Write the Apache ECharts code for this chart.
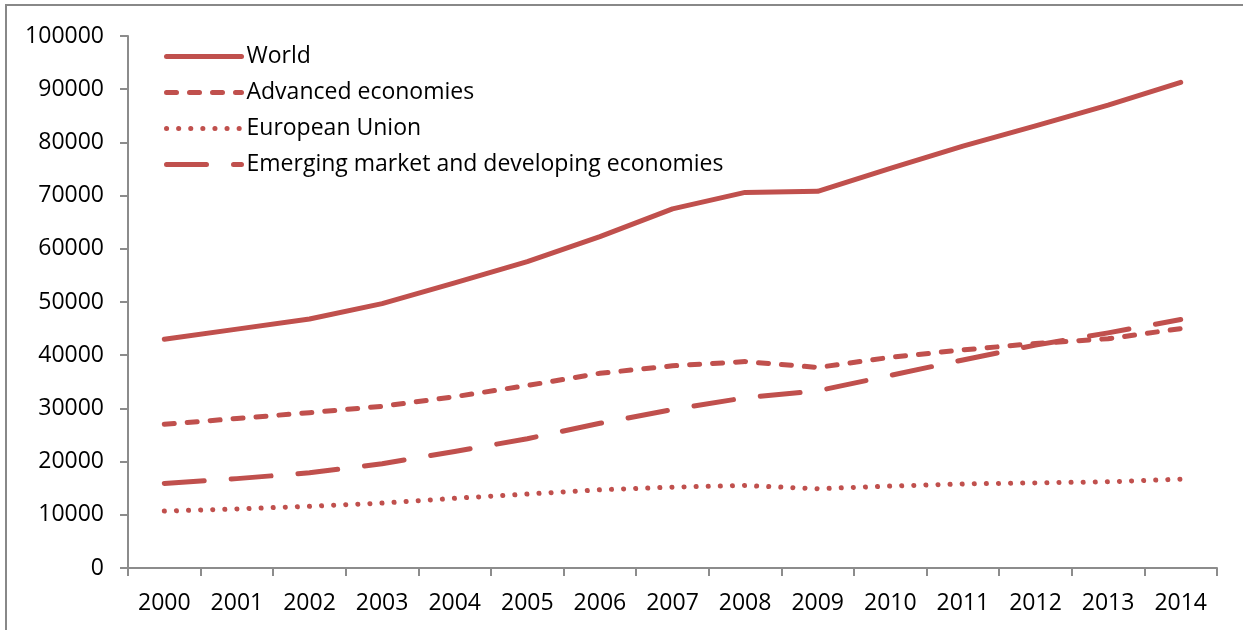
<!DOCTYPE html>
<html>
<head>
<meta charset="utf-8">
<script src="https://cdn.jsdelivr.net/npm/echarts@6/dist/echarts.min.js"></script>
<style>
  html, body { margin: 0; padding: 0; background: #fff; }
  #main { width: 1243px; height: 630px; }
</style>
</head>
<body>
<div id="main"></div>
<script>
// data
var years = ['2000', '2001', '2002', '2003', '2004', '2005', '2006', '2007',
    '2008', '2009', '2010', '2011', '2012', '2013', '2014'];
var world = [43000, 44900, 46800, 49700, 53600, 57600, 62300, 67500,
    70600, 70800, 75100, 79300, 83100, 87000, 91300];
var advanced = [27000, 28100, 29200, 30400, 32200, 34300, 36600, 38000,
    38800, 37700, 39600, 41000, 42200, 43100, 45000];
var eu = [10700, 11100, 11600, 12200, 13100, 13900, 14700, 15200,
    15500, 14900, 15400, 15800, 16000, 16200, 16700];
var emerging = [15900, 16800, 17900, 19600, 21900, 24300, 27200, 29800,
    32000, 33300, 36200, 39100, 41900, 44200, 46700];

var red = '#C0504D';
var font = 'Open Sans';

var chartDom = document.getElementById('main');
var myChart = echarts.init(chartDom);

function lineSeries(name, data, type) {
    return {
        name: name,
        type: 'line',
        data: data,
        symbol: 'none',
        showSymbol: false,
        lineStyle: { color: red, width: 5, type: type, cap: 'round', join: 'round' },
        itemStyle: { color: red },
        z: 3
    };
}

var option = {
    backgroundColor: '#fff',
    animation: false,
    graphic: [{
        type: 'rect',
        shape: { x: 6, y: 5, width: 1300, height: 700 },
        style: { fill: 'none', stroke: '#888', lineWidth: 2 },
        silent: true
    }],
    grid: { left: 128, right: 26, top: 36, bottom: 62 },
    legend: {
        orient: 'vertical',
        left: 159,
        top: 40,
        itemWidth: 75,
        itemHeight: 22,
        itemGap: 13,
        itemStyle: { opacity: 0 },
        lineStyle: { width: 5, cap: 'round' },
        textStyle: { fontFamily: font, fontSize: 23, color: '#000', lineHeight: 21 },
        data: ['World', 'Advanced economies', 'European Union', 'Emerging market and developing economies']
    },
    xAxis: {
        type: 'category',
        data: years,
        boundaryGap: true,
        axisLine: { lineStyle: { color: '#8c8c8c', width: 2 } },
        axisTick: { show: true, length: 8, lineStyle: { color: '#8c8c8c', width: 2 } },
        axisLabel: { fontFamily: font, fontSize: 23, color: '#000', margin: 24, interval: 0 },
        splitLine: { show: false }
    },
    yAxis: {
        type: 'value',
        min: 0,
        max: 100000,
        interval: 10000,
        axisLine: { show: true, lineStyle: { color: '#8c8c8c', width: 2 } },
        axisTick: { show: true, length: 8, lineStyle: { color: '#8c8c8c', width: 2 } },
        axisLabel: {
            fontFamily: font, fontSize: 23, color: '#000', margin: 24,
            formatter: function (v) { return String(v); }
        },
        splitLine: { show: false }
    },
    series: [
        lineSeries('World', world, 'solid'),
        lineSeries('Advanced economies', advanced, [10, 13]),
        lineSeries('European Union', eu, [0.1, 12]),
        lineSeries('Emerging market and developing economies', emerging, [40, 27])
    ]
};

option && myChart.setOption(option);
</script>
</body>
</html>
